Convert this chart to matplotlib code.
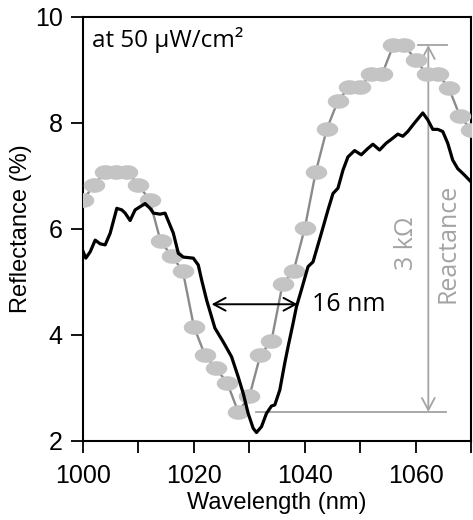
import numpy as np
import matplotlib
matplotlib.use("Agg")
import matplotlib.pyplot as plt
from matplotlib.path import Path
from matplotlib import font_manager

# gray simulated points (every 2 nm)
sim_x = list(range(1000, 1071, 2))
sim_y = [6.55, 6.83, 7.08, 7.08, 7.08, 6.83, 6.55, 5.77, 5.49, 5.21,
         4.16, 3.62, 3.37, 3.10, 2.55, 2.84, 3.62, 3.89, 4.96, 5.21,
         6.01, 7.08, 7.89, 8.42, 8.67, 8.67, 8.93, 8.93, 9.47, 9.47,
         9.19, 8.93, 8.93, 8.66, 8.13, 7.87]

# measured spectrum (black)
meas_x = [1000.0, 1000.5, 1001.3, 1002.2, 1003.1, 1004.0, 1004.9, 1006.1, 1007.0, 1007.6,
          1008.5, 1009.4, 1010.3, 1011.2, 1012.1, 1012.7, 1013.9, 1014.8, 1016.3, 1017.2,
          1018.1, 1019.9, 1020.8, 1021.4, 1022.3, 1023.8, 1025.3, 1026.8, 1028.0, 1028.9,
          1029.8, 1030.7, 1031.3, 1032.2, 1033.1, 1034.0, 1034.6, 1035.5, 1036.4, 1037.0,
          1037.9, 1038.5, 1039.4, 1040.6, 1041.5, 1043.0, 1044.2, 1045.1, 1046.0, 1046.9,
          1047.8, 1049.0, 1050.2, 1051.4, 1052.3, 1053.5, 1054.7, 1055.6, 1056.8, 1057.7,
          1058.6, 1059.8, 1061.3, 1062.2, 1063.1, 1064.0, 1064.9, 1065.8, 1066.7, 1067.6,
          1068.8, 1070.0]
meas_y = [5.58, 5.45, 5.57, 5.79, 5.72, 5.70, 5.92, 6.39, 6.36, 6.30,
          6.16, 6.36, 6.42, 6.48, 6.39, 6.30, 6.28, 6.30, 5.92, 5.54,
          5.47, 5.45, 5.32, 5.04, 4.66, 4.13, 3.87, 3.59, 3.21, 2.90,
          2.52, 2.24, 2.16, 2.27, 2.52, 2.66, 2.68, 2.96, 3.47, 3.78,
          4.22, 4.53, 4.85, 5.29, 5.38, 5.92, 6.36, 6.67, 6.77, 7.11,
          7.36, 7.48, 7.40, 7.52, 7.60, 7.49, 7.62, 7.69, 7.79, 7.75,
          7.84, 8.00, 8.19, 8.06, 7.88, 7.88, 7.84, 7.62, 7.30, 7.14,
          7.02, 6.89]

fwhm_left, fwhm_right, fwhm_y = 1023.2, 1038.7, 4.58
react_x, react_low, react_high = 1062.3, 2.55, 9.47

names = {f.name for f in font_manager.fontManager.ttflist}
tick_font = 'Liberation Sans Narrow' if 'Liberation Sans Narrow' in names else 'Liberation Sans'
label_font = 'Liberation Sans'
note_font = ['Open Sans', 'DejaVu Sans']

fig = plt.figure(figsize=(4.73, 5.20), dpi=100)
ax = fig.add_axes([83 / 473, 79 / 520, 388 / 473, 424 / 520])

# ellipse marker
t = np.linspace(0, 2 * np.pi, 40)
ell = Path(np.column_stack([np.cos(t), 0.68 * np.sin(t)]), closed=True)

ax.plot(sim_x, sim_y, color='#8a8a8a', lw=1.7, zorder=2)
ax.plot(sim_x, sim_y, ls='none', marker=ell, ms=15.5, mfc='#c4c4c4', mec='none', zorder=3)
ax.plot(meas_x, meas_y, color='black', lw=2.3, solid_joinstyle='round', zorder=4)

# FWHM arrow
ax.annotate('', xy=(fwhm_left, fwhm_y), xytext=(fwhm_right, fwhm_y),
            arrowprops=dict(arrowstyle='<->,head_length=0.43,head_width=0.23',
                            color='black', lw=1.4, shrinkA=0, shrinkB=0, mutation_scale=20),
            zorder=5)
ax.text(1041.3, fwhm_y, '16 nm', family=note_font, fontsize=18, va='center', ha='left')

# reactance bracket
gcol = '#a3a3a3'
ax.plot([1060.4, 1065.6], [react_high, react_high], color=gcol, lw=1.3, zorder=1)
ax.plot([1031.3, 1065.5], [react_low, react_low], color=gcol, lw=1.3, zorder=1)
ax.annotate('', xy=(react_x, react_high), xytext=(react_x, react_low),
            arrowprops=dict(arrowstyle='<->,head_length=0.43,head_width=0.23',
                            color=gcol, lw=1.3, shrinkA=0, shrinkB=0, mutation_scale=20),
            zorder=1)
ax.text(1058.4, 5.74, '3 kΩ', family=note_font, fontsize=18, color=gcol,
        rotation=90, ha='center', va='center')
ax.text(1065.8, 5.73, 'Reactance', family=note_font, fontsize=18, color=gcol,
        rotation=90, ha='center', va='center')

ax.text(1001.7, 9.57, 'at 50 μW/cm²', family=note_font, fontsize=17.5, va='center', ha='left')

ax.set_xlim(1000, 1070)
ax.set_ylim(2, 10)
ax.set_xticks(range(1000, 1071, 10))
ax.set_xticklabels([str(v) if v % 20 == 0 else '' for v in range(1000, 1071, 10)])
ax.set_yticks([2, 4, 6, 8, 10])
ax.tick_params(direction='out', length=8.5, width=1.3)
ax.tick_params(axis='x', pad=8)
ax.tick_params(axis='y', pad=6)
for lab in ax.get_xticklabels() + ax.get_yticklabels():
    lab.set_family(tick_font)
    lab.set_fontsize(18)
for s in ax.spines.values():
    s.set_linewidth(1.5)

ax.set_xlabel('Wavelength (nm)', family=label_font, fontsize=17, labelpad=3)
ax.set_ylabel('Reflectance (%)', family=label_font, fontsize=17, labelpad=2)

fig.savefig('out.png', dpi=100)
